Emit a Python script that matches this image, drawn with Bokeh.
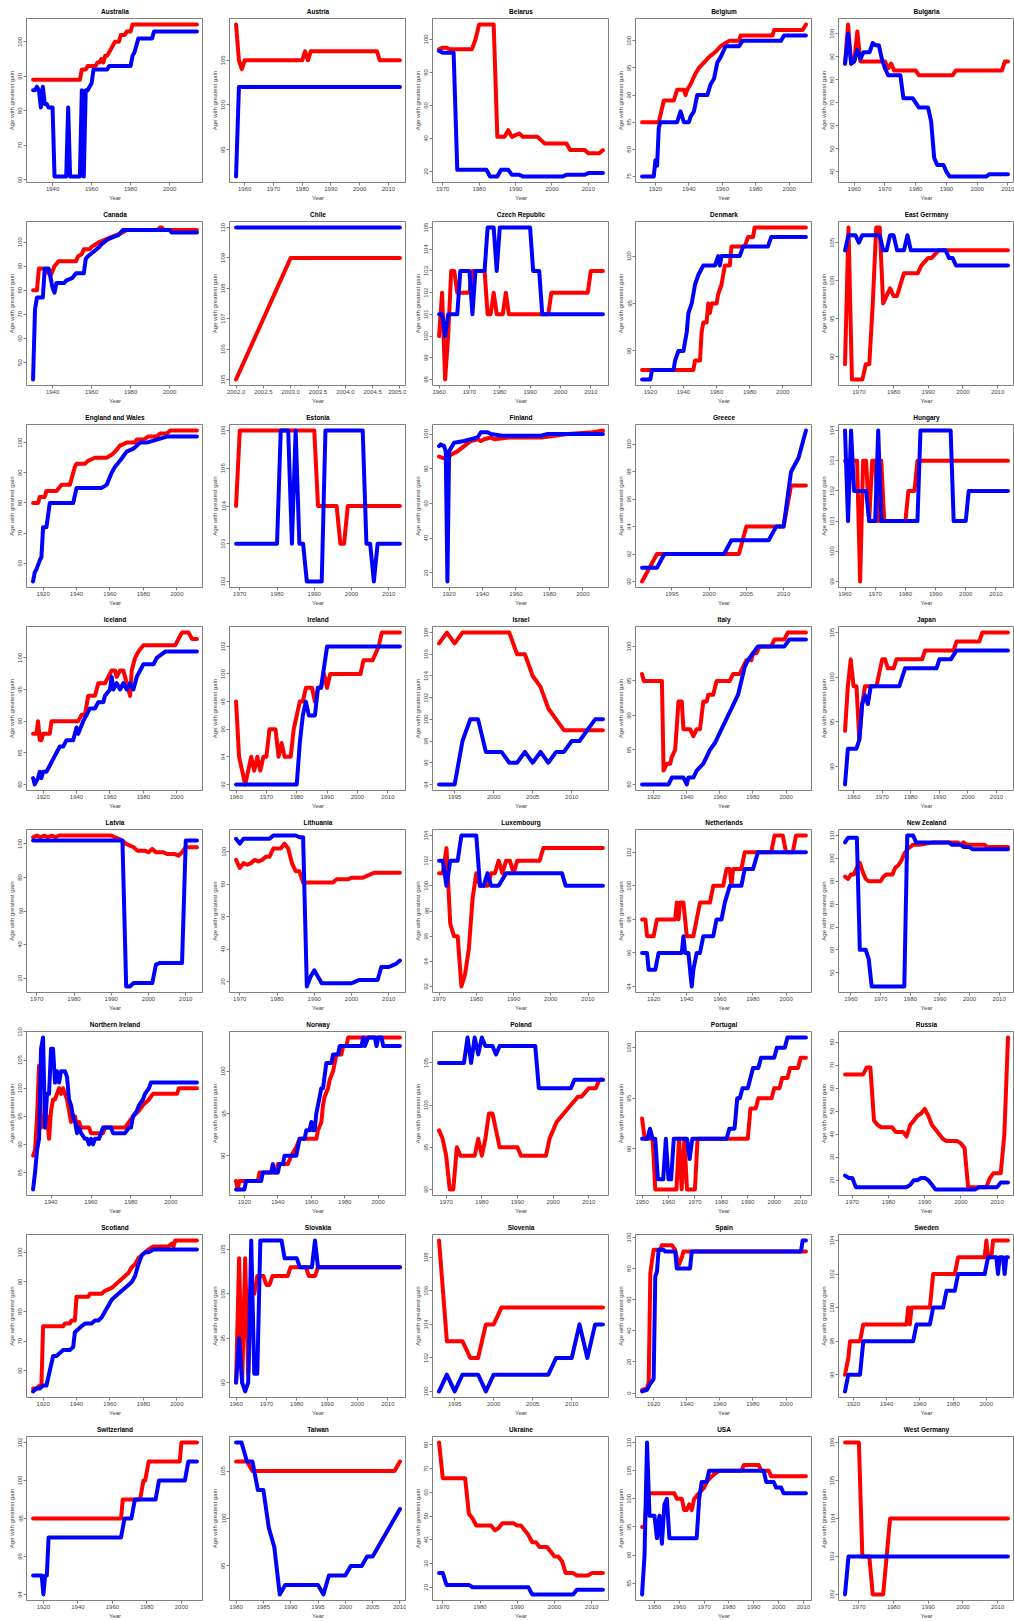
from bokeh.plotting import figure
from bokeh.layouts import gridplot
from bokeh.models import FixedTicker, Range1d, NumeralTickFormatter
from bokeh.embed import file_html
from bokeh.resources import INLINE

FONT = "Liberation Sans"
RED = "#ff0000"
BLUE = "#0000ff"

# ---------------- data: (year, age) pairs, red = female, blue = male ----------------
australia_red = [(1930, 89), (1954, 89), (1955, 92), (1957, 92), (1958, 93), (1962, 93), (1963, 94), (1964, 94), (1965, 95), (1966, 94), (1967, 96), (1968, 96), (1969, 97), (1970, 98), (1971, 99), (1972, 100), (1974, 100), (1975, 102), (1977, 102), (1978, 103), (1980, 103), (1981, 105), (2014, 105)]
australia_blue = [(1930, 86), (1931, 86), (1932, 87), (1933, 86), (1934, 81), (1935, 87), (1936, 82), (1937, 82), (1938, 81), (1940, 81), (1941, 61), (1947, 61), (1948, 81), (1949, 61), (1954, 61), (1955, 86), (1956, 61), (1957, 86), (1958, 86), (1959, 87), (1960, 88), (1961, 92), (1968, 92), (1969, 93), (1980, 93), (1981, 96), (1982, 97), (1983, 99), (1984, 101), (1991, 101), (1992, 103), (2014, 103)]

austria_red = [(1957, 109), (1958, 105), (1959, 104), (1960, 105), (1980, 105), (1981, 106), (1982, 105), (1983, 106), (2006, 106), (2007, 105), (2014, 105)]
austria_blue = [(1957, 92), (1958, 102), (2014, 102)]

belarus_red = [(1969, 94), (1970, 95), (1971, 95), (1972, 94), (1978, 94), (1979, 100), (1980, 109), (1984, 109), (1985, 41), (1987, 41), (1988, 45), (1989, 41), (1990, 42), (1991, 43), (1992, 41), (1996, 41), (1997, 39), (1998, 37), (2004, 37), (2005, 33), (2009, 33), (2010, 31), (2013, 31), (2014, 33)]
belarus_blue = [(1969, 93), (1970, 92), (1973, 92), (1974, 21), (1982, 21), (1983, 17), (1985, 17), (1986, 21), (1988, 21), (1989, 18), (1991, 18), (1992, 17), (2003, 17), (2004, 18), (2009, 18), (2010, 19), (2014, 19)]

belgium_red = [(1912, 85), (1922, 85), (1925, 89), (1931, 89), (1933, 91), (1937, 91), (1938, 90), (1939, 91), (1941, 92), (1944, 94), (1946, 95), (1949, 96), (1952, 97), (1956, 98), (1959, 99), (1964, 100), (1970, 100), (1971, 101), (1990, 101), (1991, 102), (2008, 102), (2010, 103)]
belgium_blue = [(1912, 75), (1919, 75), (1920, 78), (1921, 77), (1922, 84), (1923, 85), (1933, 85), (1935, 87), (1937, 85), (1940, 85), (1941, 86), (1943, 87), (1945, 90), (1951, 90), (1953, 92), (1955, 93), (1957, 96), (1959, 97), (1962, 99), (1970, 99), (1972, 100), (1995, 100), (1997, 101), (2010, 101)]

bulgaria_red = [(1957, 87), (1958, 104), (1959, 87), (1960, 88), (1961, 101), (1962, 88), (1970, 88), (1971, 85), (1972, 87), (1973, 84), (1980, 84), (1981, 82), (1992, 82), (1993, 84), (2008, 84), (2009, 88), (2010, 88)]
bulgaria_blue = [(1957, 87), (1958, 100), (1959, 87), (1960, 88), (1961, 93), (1962, 89), (1963, 92), (1965, 92), (1966, 96), (1967, 95), (1968, 95), (1969, 89), (1970, 85), (1971, 82), (1975, 82), (1976, 72), (1979, 72), (1980, 70), (1981, 68), (1984, 68), (1985, 62), (1986, 46), (1987, 43), (1989, 43), (1990, 40), (1991, 38), (2003, 38), (2004, 39), (2010, 39)]

canada_red = [(1930, 80), (1932, 80), (1933, 89), (1935, 89), (1937, 88), (1939, 86), (1940, 88), (1941, 90), (1943, 92), (1952, 92), (1953, 94), (1955, 95), (1956, 97), (1959, 97), (1960, 98), (1962, 99), (1964, 100), (1967, 101), (1970, 102), (1973, 103), (1976, 104), (1978, 105), (1994, 105), (1995, 106), (1996, 106), (1997, 105), (2014, 105)]
canada_blue = [(1930, 43), (1931, 72), (1932, 77), (1935, 77), (1936, 89), (1938, 89), (1939, 85), (1940, 81), (1941, 79), (1942, 83), (1946, 83), (1947, 84), (1950, 85), (1952, 87), (1956, 87), (1957, 93), (1958, 94), (1961, 96), (1964, 98), (1965, 99), (1968, 101), (1971, 102), (1974, 103), (1976, 105), (2000, 105), (2001, 104), (2014, 104)]

chile_red = [(2002, 105), (2003, 109), (2004, 109), (2005, 109)]
chile_blue = [(2002, 110), (2003, 110), (2004, 110), (2005, 110)]

czech_red = [(1960, 100), (1961, 102), (1962, 98), (1963, 100), (1964, 103), (1965, 103), (1966, 102), (1970, 102), (1971, 103), (1975, 103), (1976, 101), (1977, 101), (1978, 102), (1979, 101), (1981, 101), (1982, 102), (1983, 101), (1996, 101), (1997, 102), (2009, 102), (2010, 103), (2014, 103)]
czech_blue = [(1960, 101), (1961, 101), (1962, 100), (1963, 101), (1966, 101), (1967, 103), (1970, 103), (1971, 101), (1972, 103), (1975, 103), (1976, 105), (1978, 105), (1979, 103), (1980, 105), (1990, 105), (1991, 103), (1993, 103), (1994, 101), (2014, 101)]

denmark_red = [(1915, 88), (1946, 88), (1947, 89), (1950, 89), (1951, 92), (1952, 93), (1954, 93), (1955, 95), (1956, 94), (1957, 95), (1960, 95), (1961, 96), (1963, 97), (1964, 98), (1965, 99), (1968, 99), (1969, 101), (1977, 101), (1979, 102), (1982, 102), (1983, 103), (2014, 103)]
denmark_blue = [(1915, 87), (1920, 87), (1921, 88), (1934, 88), (1935, 89), (1937, 90), (1940, 90), (1942, 92), (1943, 94), (1945, 95), (1947, 97), (1949, 98), (1952, 99), (1959, 99), (1961, 100), (1962, 99), (1963, 100), (1974, 100), (1976, 101), (1991, 101), (1993, 102), (2014, 102)]

east_germany_red = [(1966, 89), (1967, 107), (1968, 87), (1971, 87), (1972, 89), (1973, 89), (1974, 97), (1975, 107), (1976, 107), (1977, 97), (1978, 98), (1979, 99), (1980, 98), (1981, 98), (1983, 101), (1987, 101), (1988, 102), (1990, 103), (1991, 103), (1993, 104), (2013, 104)]
east_germany_blue = [(1966, 104), (1967, 106), (1969, 106), (1970, 105), (1971, 106), (1976, 106), (1977, 104), (1978, 104), (1979, 106), (1980, 106), (1981, 104), (1983, 104), (1984, 106), (1985, 104), (1995, 104), (1996, 103), (1997, 103), (1998, 102), (2013, 102)]

england_wales_red = [(1914, 80), (1917, 80), (1918, 82), (1921, 82), (1922, 84), (1928, 84), (1931, 86), (1936, 86), (1939, 92), (1940, 93), (1945, 93), (1947, 94), (1951, 95), (1958, 95), (1961, 96), (1963, 97), (1966, 99), (1970, 100), (1975, 100), (1976, 101), (1980, 101), (1983, 102), (1988, 102), (1990, 103), (1994, 103), (1996, 104), (2012, 104)]
england_wales_blue = [(1914, 54), (1915, 57), (1916, 58), (1918, 61), (1919, 62), (1920, 72), (1922, 72), (1924, 80), (1938, 80), (1940, 85), (1955, 85), (1958, 86), (1961, 90), (1963, 92), (1966, 94), (1970, 97), (1974, 98), (1978, 100), (1982, 100), (1988, 101), (1994, 102), (2012, 102)]

estonia_red = [(1969, 104), (1970, 106), (1990, 106), (1991, 104), (1996, 104), (1997, 103), (1998, 103), (1999, 104), (2013, 104)]
estonia_blue = [(1969, 103), (1980, 103), (1981, 106), (1983, 106), (1984, 103), (1985, 106), (1986, 103), (1987, 103), (1988, 102), (1992, 102), (1993, 106), (2003, 106), (2004, 103), (2005, 103), (2006, 102), (2007, 103), (2013, 103)]

finland_red = [(1914, 87), (1917, 86), (1919, 86), (1921, 88), (1925, 90), (1929, 93), (1933, 96), (1937, 97), (1939, 96), (1941, 97), (1945, 98), (1947, 97), (1956, 98), (1975, 98), (1983, 99), (1991, 100), (2006, 101), (2012, 102)]
finland_blue = [(1914, 93), (1915, 94), (1917, 93), (1918, 90), (1919, 15), (1920, 90), (1923, 95), (1929, 96), (1933, 97), (1937, 98), (1939, 101), (1943, 101), (1945, 100), (1952, 99), (1975, 99), (1979, 100), (2012, 100)]

greece_red = [(1991, 90), (1993, 92), (2004, 92), (2005, 94), (2010, 94), (2011, 97), (2013, 97)]
greece_blue = [(1991, 91), (1993, 91), (1994, 92), (2002, 92), (2003, 93), (2008, 93), (2009, 94), (2010, 94), (2011, 98), (2012, 99), (2013, 101)]

hungary_red = [(1960, 103), (1964, 103), (1965, 99), (1966, 103), (1967, 103), (1968, 101), (1969, 103), (1970, 103), (1971, 101), (1972, 103), (1973, 101), (1980, 101), (1981, 102), (1983, 102), (1984, 103), (2014, 103)]
hungary_blue = [(1960, 104), (1961, 101), (1962, 104), (1963, 102), (1967, 102), (1968, 101), (1970, 101), (1971, 104), (1972, 101), (1984, 101), (1985, 104), (1995, 104), (1996, 101), (2000, 101), (2001, 102), (2014, 102)]

iceland_red = [(1914, 88), (1916, 88), (1917, 90), (1918, 87), (1919, 87), (1920, 88), (1924, 88), (1925, 90), (1941, 90), (1943, 91), (1945, 91), (1947, 94), (1951, 94), (1953, 96), (1957, 96), (1959, 97), (1961, 98), (1963, 98), (1964, 97), (1966, 98), (1968, 98), (1972, 94), (1973, 98), (1975, 100), (1977, 101), (1980, 102), (1999, 102), (2001, 103), (2003, 104), (2007, 104), (2009, 103), (2012, 103)]
iceland_blue = [(1914, 81), (1915, 80), (1917, 81), (1918, 82), (1919, 81), (1920, 82), (1922, 82), (1924, 83), (1926, 84), (1928, 85), (1930, 86), (1932, 86), (1934, 87), (1938, 87), (1940, 89), (1941, 88), (1944, 90), (1948, 92), (1951, 92), (1953, 93), (1956, 93), (1957, 94), (1960, 95), (1961, 97), (1962, 95), (1964, 96), (1966, 95), (1968, 96), (1970, 95), (1972, 96), (1974, 95), (1976, 97), (1978, 98), (1980, 99), (1986, 99), (1988, 100), (1993, 101), (2012, 101)]

ireland_red = [(1960, 98), (1961, 94), (1962, 93), (1963, 92), (1964, 93), (1965, 94), (1966, 93), (1967, 94), (1968, 93), (1969, 94), (1970, 94), (1971, 96), (1973, 96), (1974, 94), (1975, 95), (1976, 94), (1978, 94), (1979, 96), (1981, 98), (1982, 98), (1983, 99), (1985, 99), (1986, 98), (1987, 99), (1988, 99), (1989, 100), (1990, 99), (1991, 100), (2001, 100), (2002, 101), (2005, 101), (2007, 102), (2008, 103), (2014, 103)]
ireland_blue = [(1960, 92), (1980, 92), (1981, 95), (1982, 97), (1983, 98), (1984, 97), (1986, 97), (1987, 99), (1988, 99), (1990, 102), (2014, 102)]

israel_red = [(1993, 107), (1994, 108), (1995, 107), (1996, 108), (2002, 108), (2003, 106), (2004, 106), (2005, 104), (2006, 103), (2007, 101), (2008, 100), (2009, 99), (2014, 99)]
israel_blue = [(1993, 94), (1995, 94), (1996, 98), (1997, 100), (1998, 100), (1999, 97), (2001, 97), (2002, 96), (2003, 96), (2004, 97), (2005, 96), (2006, 97), (2007, 96), (2008, 97), (2009, 97), (2010, 98), (2011, 98), (2012, 99), (2013, 100), (2014, 100)]

italy_red = [(1913, 96), (1914, 95), (1925, 95), (1926, 82), (1928, 83), (1930, 83), (1931, 84), (1933, 85), (1935, 92), (1937, 92), (1938, 88), (1942, 88), (1944, 87), (1946, 88), (1948, 88), (1950, 92), (1952, 92), (1953, 93), (1956, 93), (1958, 95), (1966, 95), (1968, 96), (1972, 96), (1974, 97), (1976, 98), (1979, 98), (1980, 99), (1982, 99), (1984, 100), (1991, 100), (1993, 101), (1999, 101), (2001, 102), (2012, 102)]
italy_blue = [(1913, 80), (1929, 80), (1931, 81), (1938, 81), (1940, 80), (1941, 81), (1944, 81), (1946, 82), (1950, 83), (1952, 84), (1954, 85), (1957, 86), (1959, 87), (1961, 88), (1963, 89), (1965, 90), (1967, 91), (1969, 92), (1971, 93), (1973, 95), (1975, 97), (1977, 98), (1980, 99), (1983, 100), (1999, 100), (2002, 101), (2012, 101)]

japan_red = [(1957, 94), (1958, 99), (1959, 102), (1960, 99), (1961, 99), (1962, 93), (1963, 97), (1964, 99), (1968, 99), (1970, 102), (1971, 102), (1972, 101), (1974, 101), (1975, 102), (1984, 102), (1985, 103), (1995, 103), (1996, 104), (2004, 104), (2005, 105), (2014, 105)]
japan_blue = [(1957, 88), (1958, 92), (1961, 92), (1962, 93), (1963, 97), (1964, 98), (1965, 97), (1966, 99), (1976, 99), (1978, 101), (1989, 101), (1990, 102), (1994, 102), (1996, 103), (2014, 103)]

latvia_red = [(1969, 104), (1970, 105), (1971, 104), (1972, 105), (1973, 104), (1974, 105), (1975, 104), (1976, 105), (1990, 105), (1991, 104), (1992, 103), (1993, 102), (1994, 100), (1996, 98), (1997, 96), (1999, 96), (2000, 95), (2001, 97), (2002, 95), (2004, 95), (2005, 94), (2007, 94), (2008, 93), (2009, 95), (2010, 98), (2013, 98)]
latvia_blue = [(1969, 102), (1993, 102), (1994, 15), (1995, 15), (1996, 17), (2001, 17), (2002, 28), (2003, 29), (2009, 29), (2010, 102), (2013, 102)]

lithuania_red = [(1969, 95), (1970, 90), (1971, 93), (1972, 92), (1973, 93), (1974, 95), (1975, 94), (1976, 95), (1977, 97), (1978, 97), (1979, 102), (1981, 102), (1982, 105), (1983, 102), (1984, 93), (1985, 88), (1986, 88), (1987, 81), (1995, 81), (1996, 83), (1999, 83), (2000, 84), (2003, 84), (2004, 85), (2005, 86), (2006, 87), (2013, 87)]
lithuania_blue = [(1969, 108), (1970, 105), (1971, 108), (1978, 108), (1979, 110), (1985, 110), (1986, 109), (1987, 109), (1988, 17), (1989, 23), (1990, 27), (1991, 23), (1992, 19), (2000, 19), (2001, 20), (2002, 21), (2007, 21), (2008, 29), (2010, 29), (2011, 30), (2012, 31), (2013, 33)]

luxembourg_red = [(1970, 101), (1971, 101), (1972, 103), (1973, 97), (1974, 96), (1975, 96), (1976, 92), (1977, 93), (1978, 95), (1979, 99), (1980, 101), (1981, 100), (1983, 100), (1984, 101), (1985, 101), (1986, 102), (1987, 101), (1988, 102), (1989, 102), (1990, 101), (1991, 102), (1997, 102), (1998, 103), (2014, 103)]
luxembourg_blue = [(1970, 102), (1971, 102), (1972, 100), (1973, 102), (1975, 102), (1976, 104), (1980, 104), (1981, 100), (1982, 100), (1983, 101), (1984, 100), (1986, 100), (1988, 101), (2003, 101), (2004, 100), (2014, 100)]

netherlands_red = [(1913, 98), (1915, 98), (1916, 97), (1920, 97), (1922, 98), (1933, 98), (1934, 99), (1935, 98), (1936, 99), (1938, 99), (1940, 97), (1944, 97), (1946, 98), (1948, 99), (1954, 99), (1956, 100), (1962, 100), (1964, 101), (1966, 101), (1967, 100), (1968, 101), (1973, 101), (1975, 102), (1991, 102), (1993, 103), (1998, 103), (2000, 102), (2004, 102), (2006, 103), (2012, 103)]
netherlands_blue = [(1913, 96), (1916, 96), (1917, 95), (1921, 95), (1923, 96), (1937, 96), (1938, 97), (1939, 96), (1941, 96), (1942, 95), (1943, 94), (1944, 95), (1946, 96), (1948, 96), (1950, 97), (1956, 97), (1958, 98), (1961, 98), (1963, 99), (1966, 100), (1973, 100), (1975, 101), (1980, 101), (1983, 102), (2012, 102)]

new_zealand_red = [(1958, 92), (1959, 91), (1960, 93), (1961, 93), (1962, 96), (1963, 98), (1964, 94), (1965, 91), (1966, 90), (1970, 90), (1971, 92), (1972, 93), (1974, 93), (1975, 96), (1976, 97), (1977, 99), (1978, 102), (1979, 104), (1980, 105), (1981, 106), (1983, 106), (1988, 107), (1996, 107), (1997, 106), (1998, 107), (1999, 106), (2005, 106), (2006, 105), (2013, 105)]
new_zealand_blue = [(1958, 107), (1959, 109), (1962, 109), (1963, 60), (1965, 60), (1966, 56), (1967, 44), (1978, 44), (1979, 110), (1981, 110), (1982, 107), (1993, 107), (1994, 106), (1997, 106), (1998, 105), (2000, 105), (2001, 104), (2013, 104)]

northern_ireland_red = [(1931, 88), (1932, 89), (1933, 95), (1934, 104), (1935, 93), (1936, 95), (1937, 93), (1938, 95), (1939, 91), (1940, 96), (1941, 98), (1942, 98), (1944, 100), (1945, 99), (1946, 100), (1947, 99), (1948, 98), (1949, 96), (1950, 94), (1952, 95), (1953, 93), (1954, 94), (1955, 93), (1959, 93), (1960, 92), (1966, 92), (1967, 93), (1977, 93), (1979, 94), (1981, 95), (1984, 96), (1986, 97), (1989, 98), (1991, 99), (2003, 99), (2004, 100), (2013, 100)]
northern_ireland_blue = [(1931, 82), (1932, 85), (1933, 89), (1934, 91), (1935, 107), (1936, 109), (1937, 93), (1938, 99), (1939, 99), (1940, 107), (1941, 107), (1942, 101), (1943, 103), (1944, 101), (1945, 103), (1947, 103), (1948, 102), (1949, 98), (1950, 97), (1951, 95), (1952, 94), (1953, 92), (1954, 93), (1955, 92), (1957, 91), (1958, 91), (1959, 90), (1960, 91), (1961, 90), (1962, 91), (1964, 91), (1965, 92), (1966, 93), (1970, 93), (1971, 92), (1977, 92), (1979, 93), (1980, 93), (1981, 95), (1983, 96), (1984, 97), (1986, 98), (1987, 99), (1989, 100), (1990, 101), (2013, 101)]

norway_red = [(1915, 87), (1916, 86), (1917, 87), (1928, 87), (1929, 88), (1939, 88), (1940, 89), (1946, 89), (1948, 90), (1951, 91), (1953, 92), (1963, 92), (1964, 93), (1966, 94), (1967, 96), (1968, 97), (1970, 98), (1971, 99), (1973, 100), (1974, 101), (1975, 102), (1978, 102), (1979, 103), (1981, 103), (1982, 104), (2013, 104)]
norway_blue = [(1915, 86), (1920, 86), (1921, 87), (1930, 87), (1931, 88), (1936, 88), (1937, 89), (1938, 88), (1940, 88), (1941, 89), (1943, 89), (1944, 90), (1951, 90), (1952, 91), (1953, 92), (1956, 92), (1957, 93), (1959, 93), (1960, 94), (1961, 93), (1962, 93), (1963, 95), (1964, 96), (1966, 98), (1967, 98), (1969, 101), (1972, 101), (1973, 102), (1976, 102), (1977, 103), (1990, 103), (1991, 104), (1992, 103), (1994, 104), (1998, 104), (1999, 103), (2000, 104), (2002, 104), (2003, 103), (2013, 103)]

poland_red = [(1968, 97), (1969, 96), (1970, 94), (1971, 90), (1972, 90), (1973, 95), (1974, 94), (1978, 94), (1979, 96), (1980, 94), (1981, 96), (1982, 99), (1983, 99), (1984, 97), (1985, 95), (1990, 95), (1991, 94), (1998, 94), (1999, 96), (2000, 97), (2001, 98), (2003, 99), (2005, 100), (2007, 101), (2008, 101), (2010, 102), (2012, 102), (2013, 103), (2014, 103)]
poland_blue = [(1968, 105), (1975, 105), (1976, 108), (1977, 105), (1978, 108), (1979, 106), (1980, 108), (1981, 107), (1983, 107), (1984, 106), (1985, 107), (1995, 107), (1996, 102), (2005, 102), (2006, 103), (2014, 103)]

portugal_red = [(1950, 93), (1951, 91), (1954, 91), (1955, 86), (1963, 86), (1964, 91), (1965, 86), (1966, 91), (1967, 86), (1970, 86), (1971, 91), (1990, 91), (1991, 94), (1993, 94), (1994, 95), (1999, 95), (2000, 96), (2002, 96), (2003, 97), (2005, 97), (2006, 98), (2009, 98), (2010, 99), (2012, 99)]
portugal_blue = [(1950, 91), (1952, 91), (1953, 92), (1954, 91), (1955, 91), (1956, 87), (1958, 87), (1959, 91), (1960, 87), (1961, 87), (1962, 91), (1967, 91), (1968, 89), (1969, 91), (1982, 91), (1983, 92), (1985, 92), (1986, 95), (1987, 95), (1988, 96), (1990, 96), (1991, 97), (1992, 98), (1994, 98), (1995, 99), (2000, 99), (2001, 100), (2004, 100), (2005, 101), (2012, 101)]

russia_red = [(1968, 66), (1973, 66), (1974, 69), (1975, 69), (1976, 46), (1977, 44), (1978, 43), (1981, 43), (1982, 41), (1984, 41), (1985, 39), (1986, 44), (1987, 46), (1988, 48), (1989, 49), (1990, 51), (1991, 48), (1992, 44), (1993, 42), (1994, 40), (1995, 38), (1996, 37), (1999, 37), (2000, 36), (2001, 34), (2002, 17), (2007, 17), (2008, 21), (2009, 23), (2011, 23), (2012, 40), (2013, 82)]
russia_blue = [(1968, 22), (1969, 21), (1970, 21), (1971, 17), (1985, 17), (1986, 18), (1987, 20), (1988, 20), (1989, 21), (1990, 21), (1991, 20), (1992, 18), (1993, 16), (2004, 16), (2005, 17), (2010, 17), (2011, 19), (2013, 19)]

scotland_red = [(1914, 54), (1916, 54), (1918, 55), (1919, 55), (1920, 75), (1932, 75), (1933, 76), (1936, 76), (1937, 77), (1939, 77), (1940, 85), (1947, 85), (1948, 86), (1955, 86), (1957, 87), (1961, 88), (1963, 89), (1965, 90), (1967, 91), (1969, 92), (1971, 93), (1973, 95), (1975, 96), (1977, 98), (1979, 99), (1981, 100), (1983, 101), (1986, 102), (1995, 102), (1997, 103), (1998, 102), (1999, 104), (2012, 104)]
scotland_blue = [(1914, 53), (1916, 54), (1918, 54), (1920, 55), (1922, 55), (1924, 60), (1926, 65), (1928, 65), (1930, 66), (1932, 67), (1936, 67), (1938, 68), (1939, 73), (1941, 74), (1943, 75), (1945, 76), (1949, 76), (1951, 77), (1953, 77), (1955, 78), (1957, 80), (1959, 82), (1961, 84), (1963, 85), (1965, 86), (1967, 87), (1969, 88), (1971, 89), (1973, 90), (1975, 92), (1977, 96), (1979, 99), (1981, 100), (1983, 100), (1986, 101), (2012, 101)]

slovakia_red = [(1960, 90), (1961, 104), (1962, 90), (1963, 104), (1964, 91), (1965, 100), (1966, 100), (1967, 102), (1969, 102), (1970, 101), (1971, 101), (1972, 102), (1977, 102), (1978, 103), (1983, 103), (1984, 102), (1986, 102), (1987, 103), (2014, 103)]
slovakia_blue = [(1960, 90), (1961, 95), (1962, 90), (1963, 89), (1964, 90), (1965, 106), (1966, 91), (1967, 91), (1968, 106), (1975, 106), (1976, 104), (1980, 104), (1981, 103), (1985, 103), (1986, 106), (1987, 103), (2014, 103)]

slovenia_red = [(1993, 109), (1994, 103), (1996, 103), (1997, 102), (1998, 102), (1999, 104), (2000, 104), (2001, 105), (2014, 105)]
slovenia_blue = [(1993, 100), (1994, 101), (1995, 100), (1996, 101), (1998, 101), (1999, 100), (2000, 101), (2007, 101), (2008, 102), (2010, 102), (2011, 104), (2012, 102), (2013, 104), (2014, 104)]

spain_red = [(1913, 2), (1916, 3), (1917, 7), (1918, 77), (1919, 85), (1920, 92), (1924, 92), (1925, 95), (1931, 95), (1933, 92), (1935, 82), (1937, 87), (1938, 91), (2012, 91)]
spain_blue = [(1913, 1), (1916, 2), (1918, 6), (1920, 9), (1921, 75), (1922, 78), (1923, 92), (1926, 92), (1927, 91), (1933, 91), (1934, 80), (1942, 80), (1943, 91), (2009, 91), (2010, 98), (2012, 98)]

sweden_red = [(1915, 96), (1917, 97), (1918, 98), (1924, 98), (1926, 99), (1952, 99), (1953, 100), (1954, 99), (1955, 100), (1966, 100), (1967, 101), (1968, 102), (1981, 102), (1983, 103), (1999, 103), (2000, 104), (2001, 103), (2003, 103), (2004, 104), (2013, 104)]
sweden_blue = [(1915, 95), (1917, 96), (1924, 96), (1926, 98), (1956, 98), (1958, 99), (1966, 99), (1968, 100), (1974, 100), (1976, 101), (1981, 101), (1983, 102), (1999, 102), (2001, 103), (2006, 103), (2007, 102), (2008, 103), (2010, 103), (2011, 102), (2012, 103), (2013, 103)]

switzerland_red = [(1914, 98), (1965, 98), (1966, 99), (1976, 99), (1978, 100), (1979, 100), (1981, 101), (1999, 101), (2000, 102), (2009, 102)]
switzerland_blue = [(1914, 95), (1919, 95), (1920, 94), (1921, 95), (1922, 95), (1923, 97), (1965, 97), (1967, 98), (1971, 98), (1973, 99), (1985, 99), (1987, 100), (2002, 100), (2004, 101), (2009, 101)]

taiwan_red = [(1980, 106), (1982, 106), (1983, 105), (2009, 105), (2010, 106)]
taiwan_blue = [(1980, 108), (1981, 108), (1982, 106), (1983, 106), (1984, 103), (1985, 103), (1986, 99), (1987, 97), (1988, 92), (1989, 93), (1995, 93), (1996, 92), (1997, 94), (2000, 94), (2001, 95), (2003, 95), (2004, 96), (2005, 96), (2006, 97), (2007, 98), (2008, 99), (2009, 100), (2010, 101)]

ukraine_red = [(1969, 81), (1970, 66), (1976, 66), (1977, 51), (1978, 49), (1979, 46), (1983, 46), (1984, 44), (1985, 45), (1986, 47), (1989, 47), (1990, 46), (1991, 46), (1993, 42), (1994, 39), (1995, 39), (1996, 37), (1998, 37), (1999, 35), (2000, 33), (2001, 33), (2002, 31), (2003, 26), (2005, 26), (2006, 25), (2009, 25), (2010, 26), (2013, 26)]
ukraine_blue = [(1969, 26), (1970, 26), (1971, 21), (1977, 21), (1978, 20), (1993, 20), (1994, 17), (2005, 17), (2006, 19), (2013, 19)]

usa_red = [(1945, 95), (1946, 95), (1947, 101), (1958, 101), (1959, 100), (1961, 100), (1962, 98), (1963, 98), (1964, 99), (1965, 98), (1966, 100), (1968, 101), (1970, 102), (1971, 103), (1973, 104), (1976, 105), (1985, 105), (1986, 106), (1992, 106), (1993, 105), (1996, 105), (1997, 104), (2011, 104)]
usa_blue = [(1945, 83), (1946, 90), (1947, 110), (1948, 97), (1950, 97), (1951, 93), (1952, 97), (1953, 92), (1954, 99), (1955, 100), (1956, 93), (1967, 93), (1968, 100), (1969, 103), (1971, 103), (1972, 105), (1994, 105), (1995, 103), (1998, 103), (1999, 102), (2001, 102), (2002, 101), (2011, 101)]

west_germany_red = [(1966, 106), (1970, 106), (1971, 103), (1973, 103), (1974, 102), (1977, 102), (1978, 103), (1979, 104), (2013, 104)]
west_germany_blue = [(1966, 102), (1967, 103), (2013, 103)]

# ---------------- tick labels ----------------
X20_1920 = [1920, 1940, 1960, 1980, 2000]
X20_1940 = [1940, 1960, 1980, 2000]
X10_1960 = [1960, 1970, 1980, 1990, 2000, 2010]
X10_1970 = [1970, 1980, 1990, 2000, 2010]
X5_1995 = [1995, 2000, 2005, 2010]

PANELS = [
    ("Australia", australia_red, australia_blue, X20_1940, [60, 70, 80, 90, 100]),
    ("Austria", austria_red, austria_blue, X10_1960, [95, 100, 105]),
    ("Belarus", belarus_red, belarus_blue, X10_1970, [20, 40, 60, 80, 100]),
    ("Belgium", belgium_red, belgium_blue, X20_1920, [75, 80, 85, 90, 95, 100]),
    ("Bulgaria", bulgaria_red, bulgaria_blue, X10_1960, [40, 50, 60, 70, 80, 90, 100]),
    ("Canada", canada_red, canada_blue, X20_1940, [50, 60, 70, 80, 90, 100]),
    ("Chile", chile_red, chile_blue, [2002.0, 2002.5, 2003.0, 2003.5, 2004.0, 2004.5, 2005.0], [105, 106, 107, 108, 109, 110]),
    ("Czech Republic", czech_red, czech_blue, X10_1960, [98, 99, 100, 101, 102, 103, 104, 105]),
    ("Denmark", denmark_red, denmark_blue, X20_1920, [90, 95, 100]),
    ("East Germany", east_germany_red, east_germany_blue, X10_1970, [90, 95, 100, 105]),
    ("England and Wales", england_wales_red, england_wales_blue, X20_1920, [60, 70, 80, 90, 100]),
    ("Estonia", estonia_red, estonia_blue, X10_1970, [102, 103, 104, 105, 106]),
    ("Finland", finland_red, finland_blue, X20_1920, [20, 40, 60, 80, 100]),
    ("Greece", greece_red, greece_blue, X5_1995, [90, 92, 94, 96, 98, 100]),
    ("Hungary", hungary_red, hungary_blue, X10_1960, [99, 100, 101, 102, 103, 104]),
    ("Iceland", iceland_red, iceland_blue, X20_1920, [80, 85, 90, 95, 100]),
    ("Ireland", ireland_red, ireland_blue, X10_1960, [92, 94, 96, 98, 100, 102]),
    ("Israel", israel_red, israel_blue, X5_1995, [94, 96, 98, 100, 102, 104, 106, 108]),
    ("Italy", italy_red, italy_blue, X20_1920, [80, 85, 90, 95, 100]),
    ("Japan", japan_red, japan_blue, X10_1960, [90, 95, 100, 105]),
    ("Latvia", latvia_red, latvia_blue, X10_1970, [20, 40, 60, 80, 100]),
    ("Lithuania", lithuania_red, lithuania_blue, X10_1970, [20, 40, 60, 80, 100]),
    ("Luxembourg", luxembourg_red, luxembourg_blue, X10_1970, [92, 94, 96, 98, 100, 102, 104]),
    ("Netherlands", netherlands_red, netherlands_blue, X20_1920, [94, 96, 98, 100, 102]),
    ("New Zealand", new_zealand_red, new_zealand_blue, X10_1960, [50, 60, 70, 80, 90, 100, 110]),
    ("Northern Ireland", northern_ireland_red, northern_ireland_blue, X20_1940, [85, 90, 95, 100, 105, 110]),
    ("Norway", norway_red, norway_blue, X20_1920, [90, 95, 100]),
    ("Poland", poland_red, poland_blue, X10_1970, [90, 95, 100, 105]),
    ("Portugal", portugal_red, portugal_blue, [1950, 1960, 1970, 1980, 1990, 2000, 2010], [90, 95, 100]),
    ("Russia", russia_red, russia_blue, X10_1970, [20, 30, 40, 50, 60, 70, 80]),
    ("Scotland", scotland_red, scotland_blue, X20_1920, [60, 70, 80, 90, 100]),
    ("Slovakia", slovakia_red, slovakia_blue, X10_1960, [90, 95, 100, 105]),
    ("Slovenia", slovenia_red, slovenia_blue, X5_1995, [100, 102, 104, 106, 108]),
    ("Spain", spain_red, spain_blue, X20_1920, [0, 20, 40, 60, 80, 100]),
    ("Sweden", sweden_red, sweden_blue, X20_1920, [96, 98, 100, 102, 104]),
    ("Switzerland", switzerland_red, switzerland_blue, X20_1920, [94, 96, 98, 100, 102]),
    ("Taiwan", taiwan_red, taiwan_blue, [1980, 1985, 1990, 1995, 2000, 2005, 2010], [95, 100, 105]),
    ("Ukraine", ukraine_red, ukraine_blue, X10_1970, [20, 30, 40, 50, 60, 70, 80]),
    ("USA", usa_red, usa_blue, [1950, 1960, 1970, 1980, 1990, 2000, 2010], [85, 90, 95, 100, 105, 110]),
    ("West Germany", west_germany_red, west_germany_blue, X10_1970, [102, 103, 104, 105, 106]),
]

COL_W = [203, 203, 203, 203, 202]
ROW_H = [203, 203, 202, 203, 202, 203, 202, 203]


def make_panel(title, red, blue, xt, yt, w, h):
    xs = [a for a, _ in red + blue]
    ys = [b for _, b in red + blue]
    xlo, xhi = min(xs), max(xs)
    ylo, yhi = min(ys), max(ys)
    dx = (xhi - xlo) * 0.04
    dy = (yhi - ylo) * 0.04
    p = figure(width=w, height=h, x_range=Range1d(xlo - dx, xhi + dx),
               y_range=Range1d(ylo - dy, yhi + dy), output_backend="svg",
               toolbar_location=None, min_border_left=26, min_border_right=0,
               min_border_top=18, min_border_bottom=17, title=title)
    p.title.align = "center"
    p.title.text_font = FONT
    p.title.text_font_size = "6.5px"
    p.title.text_font_style = "bold"
    p.title.text_color = "#000000"
    p.title.standoff = 8
    p.grid.visible = False
    p.outline_line_color = "#808080"
    p.outline_line_width = 1
    p.background_fill_color = "white"
    p.border_fill_color = "white"
    for ax, ticks in ((p.xaxis, xt), (p.yaxis, yt)):
        ax.ticker = FixedTicker(ticks=ticks)
        ax.axis_line_color = None
        ax.major_tick_line_color = "#808080"
        ax.major_tick_in = 0
        ax.major_tick_out = 3
        ax.minor_tick_line_color = None
        ax.major_label_text_font = FONT
        ax.major_label_text_font_size = "6px"
        ax.major_label_text_color = "#444444"
        ax.major_label_standoff = 1
        ax.axis_label_text_font = FONT
        ax.axis_label_text_font_size = "6px"
        ax.axis_label_text_font_style = "normal"
        ax.axis_label_text_color = "#444444"
        ax.axis_label_standoff = 1
    p.xaxis.axis_label = "Year"
    p.yaxis.axis_label = "Age with greatest gain"
    p.yaxis.major_label_orientation = "vertical"
    if title == "Chile":
        p.xaxis.formatter = NumeralTickFormatter(format="0.0")
    p.line([a for a, _ in red], [b for _, b in red], line_color=RED, line_width=4,
           line_join="round", line_cap="round")
    p.line([a for a, _ in blue], [b for _, b in blue], line_color=BLUE, line_width=4,
           line_join="round", line_cap="round")
    return p


rows = []
for r in range(8):
    row = []
    for c in range(5):
        name, red, blue, xt, yt = PANELS[r * 5 + c]
        row.append(make_panel(name, red, blue, xt, yt, COL_W[c], ROW_H[r]))
    rows.append(row)

grid = gridplot(rows, toolbar_location=None)

open("out.html", "w").write(file_html(grid, INLINE))
